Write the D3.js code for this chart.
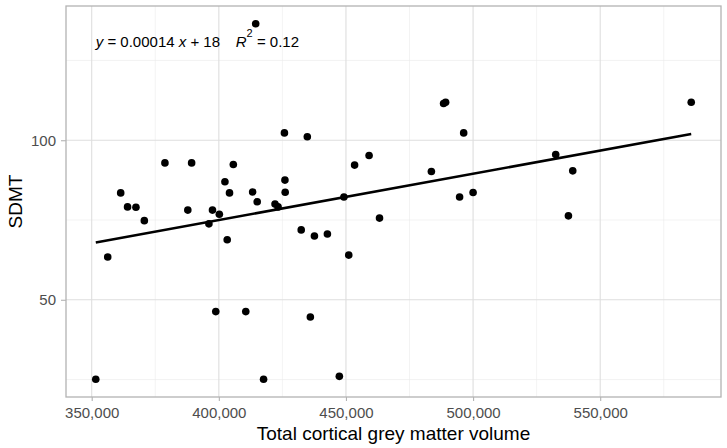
<!DOCTYPE html>
<html lang="en">
	<head>
		<meta charset="utf-8">
		<title>SDMT vs cortical grey matter volume</title>
		<script src="https://cdn.jsdelivr.net/npm/d3@7/dist/d3.min.js" charset="utf-8"></script>
		<style type="text/css">
			body { margin: 0; background: #fff; }
			text { font-family: "Liberation Sans", Arial, Helvetica, sans-serif; }
		</style>
	</head>
	<body>
		<script type="text/javascript">

		// total cortical grey matter volume, one per subject
		var gmv = [351600, 356300, 361400, 364100, 367400, 370700, 378800, 387800,
			389300, 396100, 397500, 398800, 400200, 402400, 403300, 404200,
			405700, 410600, 413300, 414500, 415100, 417600, 422100, 423300,
			425800, 426000, 426100, 432400, 434800, 436000, 437600, 442700,
			447400, 449200, 451100, 453400, 459100, 463200, 483600, 488400,
			489200, 494700, 496300, 500000, 532500, 537500, 539200, 585800];

		// SDMT score, same order
		var sdmt = [25.1, 63.4, 83.5, 79.1, 79.0, 74.8, 92.9, 78.1,
			92.9, 73.8, 78.1, 46.3, 76.8, 87.0, 68.8, 83.5,
			92.4, 46.3, 83.8, 136.5, 80.7, 25.1, 80.0, 79.1,
			102.3, 87.5, 83.7, 71.9, 101.1, 44.6, 70.0, 70.6,
			26.0, 82.2, 64.0, 92.2, 95.2, 75.6, 90.2, 111.5,
			111.9, 82.2, 102.3, 83.6, 95.5, 76.3, 90.4, 111.9];

		var xTicks = [350000, 400000, 450000, 500000, 550000];
		var xMinor = [375000, 425000, 475000, 525000, 575000];
		var yTicks = [50, 100];
		var yMinor = [25, 75, 125];

		var w = 727;
		var h = 448;
		var margin = {top: 6, right: 6, bottom: 51, left: 66};

		var data = gmv.map(function(d, i) { return {x: d, y: sdmt[i]}; });

		// ggplot style 5% expansion
		function expand(ext) {
			var pad = (ext[1] - ext[0]) * 0.05;
			return [ext[0] - pad, ext[1] + pad];
		}

		var x = d3.scaleLinear()
			.domain(expand(d3.extent(gmv)))
			.range([margin.left, w - margin.right]);
		var y = d3.scaleLinear()
			.domain(expand(d3.extent(sdmt)))
			.range([h - margin.bottom, margin.top]);

		// least squares fit
		var mx = d3.mean(gmv), my = d3.mean(sdmt);
		var sxy = d3.sum(data, function(d) { return (d.x - mx) * (d.y - my); });
		var sxx = d3.sum(data, function(d) { return (d.x - mx) * (d.x - mx); });
		var slope = sxy / sxx;
		var icpt = my - slope * mx;

		var svg = d3.select("body")
			.append("svg")
			.attr("width", w)
			.attr("height", h);

		//Grid
		svg.append("g").selectAll("line")
			.data(xMinor)
			.enter().append("line")
			.attr("x1", x).attr("x2", x)
			.attr("y1", margin.top).attr("y2", h - margin.bottom)
			.attr("stroke", "#ebebeb").attr("stroke-width", 0.6);
		svg.append("g").selectAll("line")
			.data(yMinor)
			.enter().append("line")
			.attr("y1", y).attr("y2", y)
			.attr("x1", margin.left).attr("x2", w - margin.right)
			.attr("stroke", "#ebebeb").attr("stroke-width", 0.6);
		svg.append("g").selectAll("line")
			.data(xTicks)
			.enter().append("line")
			.attr("x1", x).attr("x2", x)
			.attr("y1", margin.top).attr("y2", h - margin.bottom)
			.attr("stroke", "#dedede").attr("stroke-width", 1.1);
		svg.append("g").selectAll("line")
			.data(yTicks)
			.enter().append("line")
			.attr("y1", y).attr("y2", y)
			.attr("x1", margin.left).attr("x2", w - margin.right)
			.attr("stroke", "#dedede").attr("stroke-width", 1.1);

		//Axes
		var xAxis = svg.append("g")
			.attr("transform", "translate(0," + (h - margin.bottom) + ")")
			.call(d3.axisBottom(x).tickValues(xTicks).tickFormat(d3.format(",")).tickSize(4).tickSizeOuter(0));
		var yAxis = svg.append("g")
			.attr("transform", "translate(" + margin.left + ",0)")
			.call(d3.axisLeft(y).tickValues(yTicks).tickSize(5).tickSizeOuter(0));
		[xAxis, yAxis].forEach(function(a) {
			a.select(".domain").remove();
			a.selectAll("line").attr("stroke", "#b3b3b3").attr("stroke-width", 1.1);
			a.selectAll("text")
				.attr("fill", "#4d4d4d")
				.style("font-size", "15px")
				.style("font-family", "'Liberation Sans', Arial, sans-serif");
		});
		xAxis.selectAll("text").attr("dy", "0.95em").attr("y", 7);
		yAxis.selectAll("text").attr("x", -10);

		//Panel border
		svg.append("rect")
			.attr("x", margin.left).attr("y", margin.top)
			.attr("width", w - margin.left - margin.right)
			.attr("height", h - margin.top - margin.bottom)
			.attr("fill", "none")
			.attr("stroke", "#b3b3b3")
			.attr("stroke-width", 1.3);

		//Points
		svg.selectAll("circle")
			.data(data)
			.enter()
			.append("circle")
			.attr("cx", function(d) { return x(d.x); })
			.attr("cy", function(d) { return y(d.y); })
			.attr("r", 3.8)
			.attr("fill", "#000");

		//Fit line
		var xe = d3.extent(gmv);
		svg.append("line")
			.attr("x1", x(xe[0])).attr("y1", y(icpt + slope * xe[0]))
			.attr("x2", x(xe[1])).attr("y2", y(icpt + slope * xe[1]))
			.attr("stroke", "#000")
			.attr("stroke-width", 2.6);

		//Equation label
		var lx = x(xe[0]);
		var ly = y(d3.max(sdmt)) + 23.5;
		var eq = svg.append("text")
			.attr("x", lx).attr("y", ly)
			.style("font-size", "15px")
			.attr("fill", "#000");
		eq.append("tspan").style("font-style", "italic").text("y");
		eq.append("tspan").text(" = 0.00014 ");
		eq.append("tspan").style("font-style", "italic").text("x");
		eq.append("tspan").text(" + 18");

		var r2 = svg.append("text")
			.attr("x", lx + 140).attr("y", ly)
			.style("font-size", "15px")
			.attr("fill", "#000");
		r2.append("tspan").style("font-style", "italic").text("R");
		r2.append("tspan").attr("dy", -10).style("font-size", "11px").text("2");
		r2.append("tspan").attr("dy", 10).text(" = 0.12");

		//Axis titles
		svg.append("text")
			.attr("x", (margin.left + w - margin.right) / 2)
			.attr("y", 440)
			.attr("text-anchor", "middle")
			.style("font-size", "19px")
			.attr("fill", "#000")
			.text("Total cortical grey matter volume");

		svg.append("text")
			.attr("transform", "translate(22," + ((margin.top + h - margin.bottom) / 2) + ") rotate(-90)")
			.attr("text-anchor", "middle")
			.style("font-size", "19px")
			.attr("fill", "#000")
			.text("SDMT");

		</script>
</body>
</html>
